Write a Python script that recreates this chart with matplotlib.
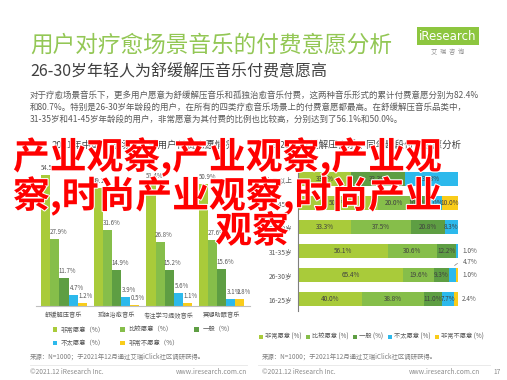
import numpy as np
import matplotlib
matplotlib.use("Agg")
import matplotlib.pyplot as plt
import matplotlib.patheffects as pe

plt.rcParams["font.family"] = ["Noto Sans CJK SC", "DejaVu Sans"]

# data, left chart
cats_left = ["舒缓解压音乐", "孤独治愈音乐", "专注学习提效音乐", "冥想助眠音乐"]
very_left = [54.5, 49.1, 51.4, 50.9]
rather_left = [27.9, 31.6, 26.8, 27.6]
neutral_left = [11.7, 14.9, 15.2, 15.6]
not_left = [4.7, 3.9, 5.6, 3.1]
never_left = [1.2, 0.5, 1.1, 2.8]

# data, right chart
ages = ["46岁及以上", "41-45岁", "36-40岁", "31-35岁", "26-30岁", "16-25岁"]
very_right = [33.3, 50.0, 33.3, 56.1, 65.4, 40.0]
rather_right = [0, 20.0, 37.5, 30.6, 19.6, 38.8]
neutral_right = [33.3, 10.0, 20.8, 12.2, 9.3, 11.0]
not_right = [33.3, 10.0, 8.3, 1.0, 4.7, 7.7]
never_right = [0, 10.0, 0, 0, 1.0, 2.4]

series_names = ["非常愿意", "比较愿意", "一般", "不太愿意", "非常不愿意"]
colors = ["#A9CB3A", "#86BE4A", "#5E9E43", "#2CB9EC", "#F9CC1A"]

W, H = 507, 380
fig = plt.figure(figsize=(W / 100, H / 100), dpi=100)
fig.patch.set_facecolor("white")


def fx(x):
    return x / W


def fy(y):
    return 1 - y / H


gray = "#595959"
dark = "#404040"

# header
fig.text(fx(30), fy(45), "用户对疗愈场景音乐的付费意愿分析", color="#93C755",
         fontsize=16.3, va="center", ha="left")
fig.text(fx(30), fy(72), "26-30岁年轻人为舒缓解压音乐付费意愿高", color=dark,
         fontsize=11.5, va="center", ha="left")
fig.text(fx(448), fy(36), "iResearch", color="white", fontsize=8.5, ha="center", va="center",
         family=["DejaVu Sans"],
         bbox=dict(facecolor="#8DC63F", edgecolor="none", pad=1.5))
fig.text(fx(448), fy(52), "艾  瑞  咨  询", color="#8C8C8C", fontsize=4.5, ha="center", va="center")

para = [
    "对于疗愈场景音乐下，更多用户愿意为舒缓解压音乐和孤独治愈音乐付费，这两种音乐形式的累计付费意愿分别为82.4%",
    "和80.7%。特别是26-30岁年龄段的用户，在所有的四类疗愈音乐场景上的付费意愿都最高。在舒缓解压音乐品类中，",
    "31-35岁和41-45岁年龄段的用户，非常愿意为其付费的比例也比较高，分别达到了56.1%和50.0%。",
]
for i, line in enumerate(para):
    fig.text(fx(30), fy(95 + 12 * i), line, color=gray, fontsize=6.1, va="center", ha="left")

fig.text(fx(143), fy(145), "2021年中国疗愈场景音乐用户付费意愿情况", color=dark,
         fontsize=6.8, ha="center", va="center")
fig.text(fx(366), fy(145), "2021年舒缓解压音乐不同年龄段付费意愿分析", color=dark,
         fontsize=6.8, ha="center", va="center")

# left chart: grouped bars
ax1 = fig.add_axes([fx(36), fy(306), (250 - 36) / W, 150 / H])
left_series = [very_left, rather_left, neutral_left, not_left, never_left]
x = np.arange(len(cats_left))
bw = 0.172
for k, vals in enumerate(left_series):
    pos = x + (k - 2) * bw
    ax1.bar(pos, vals, width=bw, color=colors[k], label=series_names[k] + "（%）")
    for p, v in zip(pos, vals):
        ax1.text(p + 0.07, v + 1.2, f"{v:.1f}%", color=gray, fontsize=4.4,
                 ha="center", va="bottom")
ax1.set_xlim(-0.533, 3.54)
ax1.set_ylim(0, 62.5)
ax1.set_xticks(x)
ax1.set_xticklabels(cats_left, fontsize=4.5, color=gray)
ax1.tick_params(axis="x", length=0, pad=4)
ax1.set_yticks([])
for s in ["top", "right", "left"]:
    ax1.spines[s].set_visible(False)
ax1.spines["bottom"].set_color("#BFBFBF")
ax1.spines["bottom"].set_linewidth(0.8)
ax1.patch.set_alpha(0)

h, l = ax1.get_legend_handles_labels()
order = [0, 3, 1, 4, 2]
fig.legend([h[i] for i in order], [l[i] for i in order], ncol=3,
           loc="upper left", bbox_to_anchor=(fx(50), fy(323)), frameon=False,
           fontsize=4.6, handlelength=0.7, handleheight=0.7, handletextpad=0.6,
           columnspacing=2.4, labelspacing=0.9, labelcolor=gray, borderaxespad=0)

# right chart: stacked horizontal bars
ax2 = fig.add_axes([fx(298), fy(311), 160 / W, 144 / H])
right_series = [very_right, rather_right, neutral_right, not_right, never_right]
y = np.arange(len(ages))
left = np.zeros(len(ages))
for k, vals in enumerate(right_series):
    vals = np.array(vals)
    ax2.barh(y, vals, left=left, height=0.62, color=colors[k], label=series_names[k] + " (%)")
    left = left + vals

for r in range(len(ages)):
    vals = [s[r] for s in right_series]
    nz = [k for k, v in enumerate(vals) if v > 0]
    last = nz[-1]
    start = 0.0
    for k, v in enumerate(vals):
        if v <= 0:
            continue
        mid = start + v / 2
        if v >= 5:
            ax2.text(mid, r, f"{v:.1f}%", color=dark, fontsize=4.6, ha="center", va="center")
        elif k == last:
            ax2.text(102.5, r, f"{v:.1f}%", color=gray, fontsize=4.6, ha="left", va="center")
        else:
            ax2.annotate(f"{v:.1f}%", xy=(mid, r - 0.31), xytext=(103, r - 0.55),
                         color=gray, fontsize=4.6, ha="left", va="center",
                         arrowprops=dict(arrowstyle="-", color="#7F7F7F", lw=0.5,
                                         connectionstyle="arc3,rad=0.3"))
        start += v

ax2.set_xlim(0, 100)
ax2.set_ylim(5.5, -0.5)
ax2.set_yticks(y)
ax2.set_yticklabels(ages, fontsize=4.8, color=gray)
ax2.tick_params(axis="y", length=0, pad=4)
ax2.set_xticks([])
for s in ["top", "right", "bottom"]:
    ax2.spines[s].set_visible(False)
ax2.spines["left"].set_color("#7F7F7F")
ax2.spines["left"].set_linewidth(0.8)
ax2.patch.set_alpha(0)

h2, l2 = ax2.get_legend_handles_labels()
fig.legend(h2, l2, ncol=5, loc="center left", bbox_to_anchor=(fx(256), fy(337)),
           frameon=False, fontsize=4.5, handlelength=0.7, handleheight=0.7,
           handletextpad=0.3, columnspacing=0.7, labelcolor=gray, borderaxespad=0)

# sources and footer
src = "来源：N=1000；于2021年12月通过艾瑞iClick社区调研获得。"
fig.text(fx(30), fy(357), src, color="#7F7F7F", fontsize=4.6, va="center", ha="left")
fig.text(fx(262), fy(357), src, color="#7F7F7F", fontsize=4.6, va="center", ha="left")
for x0, x1 in [(30, 247), (258, 490)]:
    fig.add_artist(plt.Line2D([fx(x0), fx(x1)], [fy(365), fy(365)], color="#E6E6E6", lw=0.6))
fig.text(fx(30), fy(372), "©2021.12 iResearch Inc.", color="#8C8C8C", fontsize=4.8, va="center")
fig.text(fx(247), fy(372), "www.iresearch.com.cn", color="#8C8C8C", fontsize=4.8, va="center", ha="right")
fig.text(fx(262), fy(372), "©2021.12 iResearch Inc.", color="#8C8C8C", fontsize=4.8, va="center")
fig.text(fx(480), fy(372), "www.iresearch.com.cn", color="#8C8C8C", fontsize=4.8, va="center", ha="right")
fig.text(fx(497), fy(372), "17", color="#8C8C8C", fontsize=4.8, va="center", ha="center")

# overlay text
stroke = [pe.withStroke(linewidth=1.5, foreground="white")]
overlay = ["产业观察,产业观察,产业观", "察,时尚产业观察,时尚产业", "观察"]
fig.text(fx(13), fy(157), overlay[0], color="#FF0000", fontsize=26.5, fontweight="bold",
         ha="left", va="center", path_effects=stroke)
fig.text(fx(13), fy(196), overlay[1], color="#FF0000", fontsize=26.5, fontweight="bold",
         ha="left", va="center", path_effects=stroke)
fig.text(fx(252), fy(232), overlay[2], color="#FF0000", fontsize=26.5, fontweight="bold",
         ha="center", va="center", path_effects=stroke)

fig.savefig("out.png", dpi=100)
